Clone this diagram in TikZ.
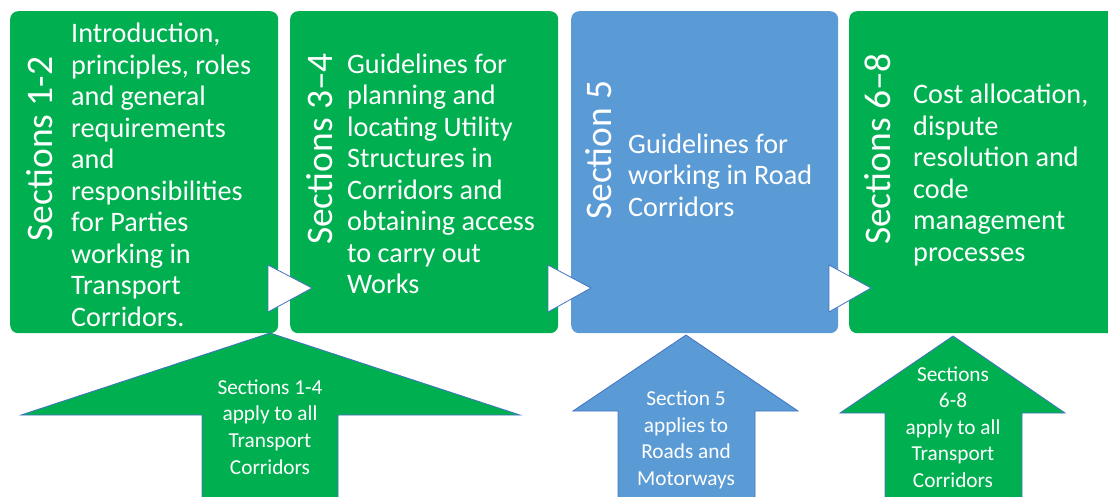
\documentclass[tikz,border=0pt]{standalone}
\usepackage{fontspec}
\setmainfont{Carlito}
\definecolor{grn}{HTML}{00B050}
\definecolor{blu}{HTML}{5B9BD5}
\definecolor{edge}{HTML}{4472C4}
\begin{document}
\begin{tikzpicture}[x=1pt,y=-1pt,
 box/.style={rounded corners=8pt, inner sep=0pt, anchor=north west, minimum height=322pt},
 sec/.style={rotate=90, text=white, font=\fontsize{37.5}{40}\selectfont, anchor=center, inner sep=0pt},
 body/.style={text=white, font=\fontsize{28.2}{31.5}\selectfont, align=left, anchor=west, inner sep=0pt},
 tri/.style={fill=white, draw=edge, line width=0.8pt, line join=miter},
 up/.style={draw=edge, line width=0.8pt, line join=miter},
 lab/.style={text=white, font=\fontsize{21.3}{26.6}\selectfont, align=center, inner sep=0pt}]
\useasboundingbox (0,0) rectangle (1108,496);
\clip (0,0) rectangle (1108,496);
% boxes
\node[box, fill=grn, minimum width=268pt] (b1) at (10,11) {};
\node[box, fill=grn, minimum width=268pt] (b2) at (290,11) {};
\node[box, fill=blu, minimum width=267pt] (b3) at (571,11) {};
\node[box, fill=grn, minimum width=280pt] (b4) at (849,11) {};
% vertical titles
\node[sec] (s1) at (40,149) {Sections 1-2};
\node[sec] (s2) at (320,149) {Sections 3–4};
\node[sec] (s3) at (599,150) {Section 5};
\node[sec] (s4) at (878,149) {Sections 6–8};
% body texts
\node[body] (t1) at (71,175) {Introduction,\\principles, roles\\and general\\requirements\\and\\responsibilities\\for Parties\\working in\\Transport\\Corridors.};
\node[body] (t2) at (347,174) {Guidelines for\\planning and\\locating Utility\\Structures in\\Corridors and\\obtaining access\\to carry out\\Works};
\node[body] (t3) at (628,175) {Guidelines for\\working in Road\\Corridors};
\node[body] (t4) at (913,175) {Cost allocation,\\dispute\\resolution and\\code\\management\\processes};
% connecting triangles
\draw[tri] (268,265) -- (312,288) -- (268,312) -- cycle;
\draw[tri] (548,265) -- (591,288) -- (548,312) -- cycle;
\draw[tri] (829,265) -- (871,288) -- (829,312) -- cycle;
% up arrows
\draw[up, fill=grn] (270,333) -- (520,415) -- (338,415) -- (338,505) -- (202,505) -- (202,415) -- (21,415) -- cycle;
\draw[up, fill=blu] (686,335) -- (798,411) -- (755,411) -- (755,505) -- (618,505) -- (618,411) -- (573,411) -- cycle;
\draw[up, fill=grn] (953,336) -- (1065,413) -- (1022,413) -- (1022,505) -- (885,505) -- (885,413) -- (840,413) -- cycle;
% arrow labels
\node[lab] (l1) at (270,427) {Sections 1-4\\apply to all\\Transport\\Corridors};
\node[lab] (l2) at (686,440) {Section 5\\applies to\\Roads and\\Motorways};
\node[lab] (l3) at (953,427) {Sections\\6-8\\apply to all\\Transport\\Corridors};
\end{tikzpicture}
\end{document}
